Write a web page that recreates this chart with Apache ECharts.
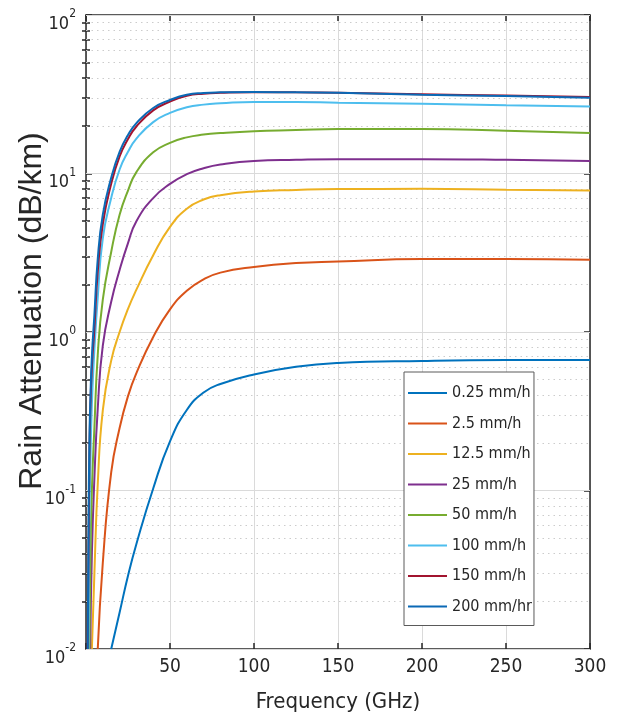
<!DOCTYPE html>
<html>
<head>
<meta charset="utf-8">
<script src="https://cdn.jsdelivr.net/npm/echarts@6/dist/echarts.min.js"></script>
<style>
  html, body { margin: 0; padding: 0; background: #fff; }
  #chart { width: 619px; height: 721px; }
</style>
</head>
<body>
<div id="chart"></div>
<script>
// frequency grid (GHz)
var freq = [1, 1.5, 2, 2.5, 3.5, 5, 7, 10, 15, 20, 25, 30, 40, 50, 60, 70, 80, 100, 125, 150, 200, 250, 300];

// rain attenuation (dB/km)
var r0_25 = [null, null, null, null, null, null, null, null, 0.01, 0.017, 0.029, 0.046, 0.103, 0.204, 0.322, 0.415, 0.47, 0.54, 0.603, 0.637, 0.657, 0.665, 0.665];
var r2_5 = [null, null, null, null, null, null, 0.01, 0.035, 0.13, 0.248, 0.394, 0.55, 0.93, 1.39, 1.82, 2.15, 2.37, 2.57, 2.72, 2.78, 2.89, 2.89, 2.86];
var r12_5 = [null, null, null, null, 0.01, 0.03, 0.11, 0.32, 0.66, 1.0, 1.4, 1.85, 3.05, 4.6, 6.0, 6.85, 7.3, 7.7, 7.88, 7.98, 8.0, 7.9, 7.8];
var r25 = [null, null, null, 0.01, 0.04, 0.12, 0.33, 0.82, 1.55, 2.46, 3.64, 5.0, 7.0, 8.6, 9.9, 10.8, 11.4, 12.0, 12.2, 12.3, 12.3, 12.2, 12.0];
var r50 = [null, null, 0.01, 0.03, 0.1, 0.25, 0.72, 1.6, 3.2, 5.5, 7.8, 10.2, 13.6, 15.6, 16.9, 17.6, 18.0, 18.5, 18.8, 19.1, 19.1, 18.6, 18.0];
var r100 = [null, 0.01, 0.06, 0.13, 0.35, 0.77, 1.65, 3.9, 7.0, 10.6, 13.7, 16.6, 21.1, 24.1, 26.2, 27.2, 27.7, 28.3, 28.3, 28.0, 27.5, 27.0, 26.5];
var r150 = [0.01, 0.04, 0.15, 0.3, 0.6, 1.05, 2.4, 4.8, 8.6, 12.8, 16.5, 19.8, 25.0, 28.4, 30.9, 31.9, 32.3, 32.6, 32.5, 32.3, 31.6, 31.0, 30.4];
var r200 = [0.01, 0.06, 0.2, 0.35, 0.7, 1.28, 2.9, 5.5, 9.4, 13.7, 17.5, 20.8, 25.9, 29.1, 31.4, 32.2, 32.5, 32.7, 32.5, 32.3, 31.4, 30.8, 30.1];

var names = ['0.25 mm/h', '2.5 mm/h', '12.5 mm/h', '25 mm/h', '50 mm/h', '100 mm/h', '150 mm/h', '200 mm/hr'];
var colors = ['#0072BD', '#D95319', '#EDB120', '#7E2F8E', '#77AC30', '#4DBEEE', '#A2142F', '#0b69b5'];
var values = [r0_25, r2_5, r12_5, r25, r50, r100, r150, r200];

// y axis ticks
var majorTicks = [0.01, 0.1, 1, 10, 100];
var minorMult = [2, 3, 4, 5, 6, 7, 8, 9];
var minorTicks = [];
majorTicks.slice(0, 4).forEach(function (d) {
  minorMult.forEach(function (m) { minorTicks.push(+(m * d).toPrecision(3)); });
});

var narrow = "'Liberation Sans Narrow', 'DejaVu Sans Condensed', 'Liberation Sans', sans-serif";
var txt = '#262626';

var chart = echarts.init(document.getElementById('chart'));

function pairs(arr) {
  var out = [];
  for (var i = 0; i < freq.length; i++) {
    if (arr[i] != null) out.push([freq[i], arr[i]]);
  }
  return out;
}

var series = names.map(function (n, i) {
  return {
    name: n,
    type: 'line',
    data: pairs(values[i]),
    showSymbol: false,
    symbol: 'none',
    smooth: 0.5,
    clip: true,
    z: 3,
    lineStyle: { width: 2, color: colors[i] },
    itemStyle: { color: colors[i] }
  };
});

// horizontal grid lines (major solid, minor dotted)
series.push({
  name: 'grid',
  type: 'line',
  data: [],
  silent: true,
  markLine: {
    silent: true,
    z: 1,
    symbol: ['none', 'none'],
    label: { show: false },
    animation: false,
    data: majorTicks.map(function (v) {
      return { yAxis: v, lineStyle: { type: 'solid', color: '#dadada', width: 1 } };
    }).concat(minorTicks.map(function (v) {
      return { yAxis: v, lineStyle: { type: [1.5, 4], color: '#cccccc', width: 1 } };
    }))
  }
});

var axisLineStyle = { color: txt, width: 1.5 };

chart.setOption({
  animation: false,
  backgroundColor: '#fff',
  grid: { left: 86, right: 29, top: 15, bottom: 72, containLabel: false },
  legend: {
    data: names,
    orient: 'vertical',
    left: 404,
    top: 372,
    padding: [11, 2, 9, 4],
    itemWidth: 39,
    itemHeight: 20,
    itemGap: 10.5,
    icon: 'path://M0 0H40V2.2H0Z',
    backgroundColor: '#fff',
    borderColor: '#5a5a5a',
    borderWidth: 1,
    borderRadius: 0,
    textStyle: { fontSize: 16, fontFamily: narrow, color: txt, lineHeight: 20 }
  },
  xAxis: [
    {
      type: 'value',
      min: 0,
      max: 300,
      interval: 50,
      name: 'Frequency (GHz)',
      nameLocation: 'middle',
      nameGap: 42,
      nameMoveOverlap: false,
      nameTextStyle: { fontSize: 22, fontFamily: narrow, color: txt },
      axisLine: { show: true, onZero: false, lineStyle: axisLineStyle },
      axisTick: { show: true, inside: true, length: 6, lineStyle: axisLineStyle },
      axisLabel: {
        margin: 9,
        fontSize: 19,
        fontFamily: narrow,
        color: txt,
        formatter: function (v) { return v === 0 ? '' : String(v); }
      },
      splitLine: { show: true, lineStyle: { color: '#dadada', width: 1 } }
    },
    {
      type: 'value',
      position: 'top',
      min: 0,
      max: 300,
      interval: 50,
      axisLine: { show: true, onZero: false, lineStyle: axisLineStyle },
      axisTick: { show: true, inside: true, length: 6, lineStyle: axisLineStyle },
      axisLabel: { show: false },
      splitLine: { show: false }
    }
  ],
  yAxis: [
    {
      type: 'log',
      logBase: 10,
      min: 0.01,
      max: 100,
      name: 'Rain Attenuation (dB/km)',
      nameLocation: 'middle',
      nameGap: 38,
      nameMoveOverlap: false,
      nameTextStyle: { fontSize: 32, fontFamily: "'Liberation Sans', Arial, sans-serif", color: txt, padding: [0, 0, 0, 42] },
      axisLine: { show: true, onZero: false, lineStyle: axisLineStyle },
      axisTick: { show: true, inside: true, length: 6, lineStyle: axisLineStyle, customValues: majorTicks },
      axisLabel: {
        margin: 10,
        padding: [11, 0, 0, 0],
        customValues: majorTicks,
        formatter: function (v) {
          return '{b|10}{s|' + Math.round(Math.log10(v)) + '}';
        },
        rich: {
          b: { fontSize: 18, fontFamily: narrow, color: txt, padding: [7, 0, 0, 0] },
          s: { fontSize: 12, fontFamily: narrow, color: txt, verticalAlign: 'top' }
        }
      },
      splitLine: { show: false }
    },
    {
      type: 'log',
      logBase: 10,
      min: 0.01,
      max: 100,
      position: 'right',
      axisLine: { show: true, onZero: false, lineStyle: axisLineStyle },
      axisTick: { show: true, inside: true, length: 6, lineStyle: axisLineStyle, customValues: majorTicks },
      axisLabel: { show: false },
      splitLine: { show: false }
    },
    {
      type: 'log',
      logBase: 10,
      min: 0.01,
      max: 100,
      position: 'left',
      axisLine: { show: false },
      axisTick: { show: true, inside: true, length: 4, lineStyle: axisLineStyle, customValues: minorTicks },
      axisLabel: { show: false },
      splitLine: { show: false }
    },
    {
      type: 'log',
      logBase: 10,
      min: 0.01,
      max: 100,
      position: 'right',
      axisLine: { show: false },
      axisTick: { show: true, inside: true, length: 4, lineStyle: axisLineStyle, customValues: minorTicks },
      axisLabel: { show: false },
      splitLine: { show: false }
    }
  ],
  series: series
});
</script>
</body>
</html>
